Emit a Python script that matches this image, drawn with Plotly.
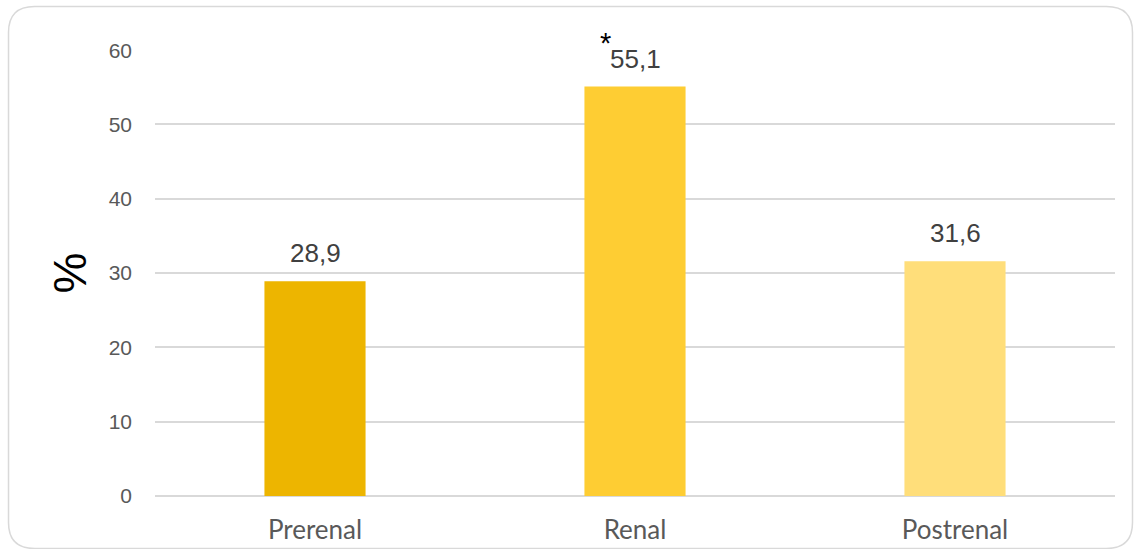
import plotly.graph_objects as go

categories = ["Prerenal", "Renal", "Postrenal"]
values = [28.9, 55.1, 31.6]
bar_colors = ["#EDB500", "#FECD33", "#FFDE7A"]
y_ticks = [0, 10, 20, 30, 40, 50, 60]
marked = "Renal"

W, H = 1134, 549
ML, MR, MT, MB = 155, 19, 50, 53

fig = go.Figure(
    go.Bar(
        x=categories,
        y=values,
        marker=dict(color=bar_colors, line=dict(width=0)),
        width=0.316,
        hoverinfo="skip",
    )
)

# value labels above each bar, comma as decimal separator
for cat, v in zip(categories, values):
    fig.add_annotation(
        x=cat, y=v, yanchor="bottom", yshift=11, showarrow=False,
        text=f"{v:.1f}".replace(".", ","),
        font=dict(family="Liberation Sans, Arial", size=26, color="#404040"),
    )

# significance marker
fig.add_annotation(
    x=marked, y=values[categories.index(marked)], xshift=-30, yshift=44,
    showarrow=False, text="*",
    font=dict(family="Liberation Sans, Arial", size=29, color="#000000"),
)

# y axis title
fig.add_annotation(
    xref="paper", yref="paper", x=-0.089, y=0.5, xanchor="center", yanchor="middle",
    showarrow=False, text="%", textangle=-90,
    font=dict(family="Liberation Sans, Arial", size=46, color="#000000"),
)

# rounded outer frame, given in pixels and converted to paper coordinates
pw, ph = W - ML - MR, H - MT - MB


def P(px, py):
    return f"{(px - ML) / pw:.5f},{(H - py - MB) / ph:.5f}"


x0, y0, x1, y1, r = 8.5, 6.5, 1132.5, 548.5, 26
frame_path = (
    f"M {P(x0 + r, y0)} L {P(x1 - r, y0)} Q {P(x1, y0)} {P(x1, y0 + r)} "
    f"L {P(x1, y1 - r)} Q {P(x1, y1)} {P(x1 - r, y1)} "
    f"L {P(x0 + r, y1)} Q {P(x0, y1)} {P(x0, y1 - r)} "
    f"L {P(x0, y0 + r)} Q {P(x0, y0)} {P(x0 + r, y0)} Z"
)

fig.update_layout(
    width=W, height=H,
    margin=dict(l=ML, r=MR, t=MT, b=MB),
    paper_bgcolor="white", plot_bgcolor="white",
    showlegend=False,
    xaxis=dict(
        showgrid=False, showline=False, ticks="", automargin=False,
        tickfont=dict(family="Lato, Liberation Sans", size=26, color="#595959"),
        ticklabelstandoff=16,
    ),
    yaxis=dict(
        range=[0, 60.02], tickvals=y_ticks, showline=False, ticks="", automargin=False,
        gridcolor="#D9D9D9", gridwidth=1.5,
        zeroline=True, zerolinecolor="#D9D9D9", zerolinewidth=1.5,
        tickfont=dict(family="Liberation Sans, Arial", size=21, color="#595959"),
        ticklabelstandoff=22,
    ),
    shapes=[dict(
        type="path", xref="paper", yref="paper", path=frame_path,
        line=dict(color="#D9D9D9", width=1.5), layer="above",
    )],
)

fig.write_html("out.html")
